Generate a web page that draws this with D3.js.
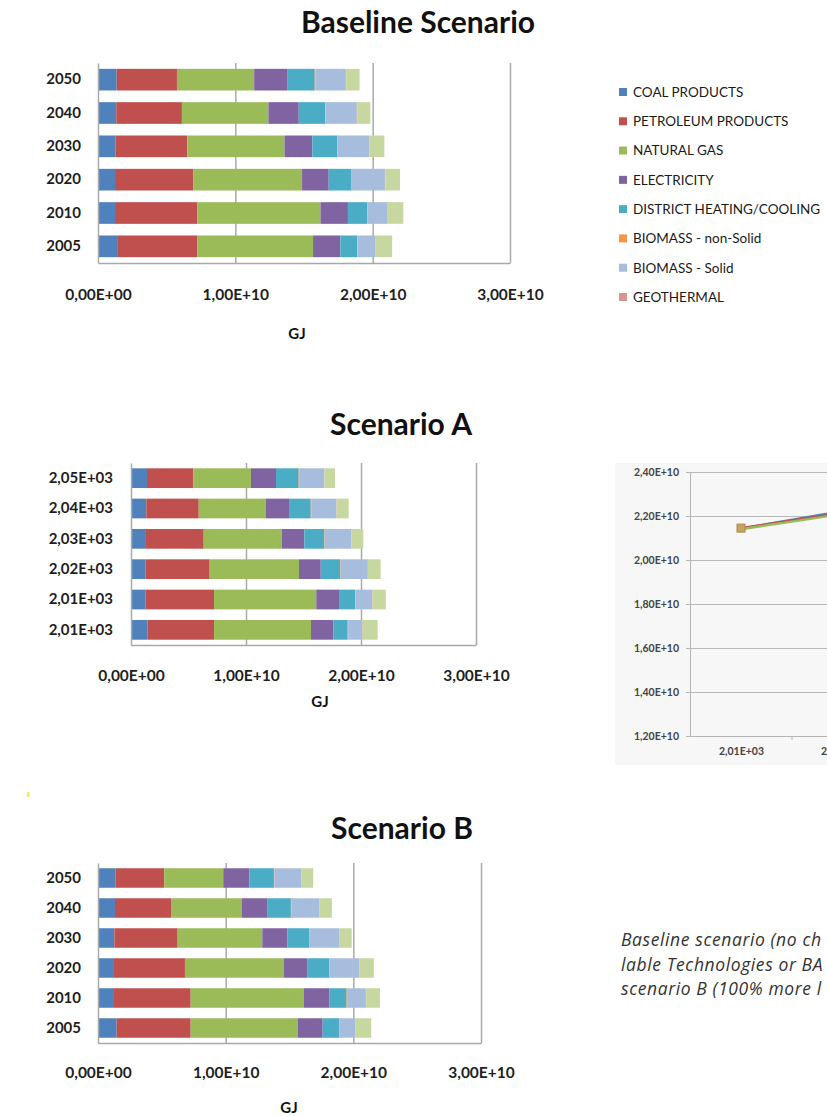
<!DOCTYPE html>
<html>
<head>
<meta charset="utf-8">
<script src="https://cdn.jsdelivr.net/npm/d3@7"></script>
<style>
  body { margin: 0; background: #fff; }
  svg { display: block; font-family: Lato, "Open Sans", sans-serif; }
</style>
</head>
<body>
<script>
// categories (bottom to top in the bar charts)
var years = [2005, 2010, 2020, 2030, 2040, 2050];
var yearLabels = ["2005", "2010", "2020", "2030", "2040", "2050"];
var yearLabelsA = ["2,01E+03", "2,01E+03", "2,02E+03", "2,03E+03", "2,04E+03", "2,05E+03"];

// series (the 9th one is not visible in the cropped legend)
var seriesNames = ["COAL PRODUCTS", "PETROLEUM PRODUCTS", "NATURAL GAS", "ELECTRICITY",
  "DISTRICT HEATING/COOLING", "BIOMASS - non-Solid", "BIOMASS - Solid", "GEOTHERMAL", "OTHER"];
var seriesColors = ["#4f81bd", "#c0504d", "#9bbb59", "#8064a2", "#4bacc6",
  "#f79646", "#a6bddd", "#da9694", "#c6d8a0"];

// values in 1E+10 GJ, one row per year, one column per series
var baselineValues = [
  [0.145, 0.577, 0.844, 0.199, 0.121, 0.004, 0.129, 0.003, 0.120],
  [0.124, 0.598, 0.898, 0.200, 0.139, 0.004, 0.144, 0.003, 0.113],
  [0.124, 0.569, 0.793, 0.194, 0.165, 0.004, 0.240, 0.003, 0.107],
  [0.129, 0.521, 0.708, 0.203, 0.180, 0.004, 0.228, 0.003, 0.109],
  [0.133, 0.478, 0.630, 0.221, 0.191, 0.004, 0.227, 0.003, 0.096],
  [0.136, 0.439, 0.562, 0.240, 0.201, 0.004, 0.222, 0.003, 0.098]
];
var scenarioAValues = [
  [0.145, 0.577, 0.843, 0.194, 0.125, 0.004, 0.123, 0.003, 0.131],
  [0.128, 0.594, 0.889, 0.204, 0.133, 0.004, 0.146, 0.003, 0.114],
  [0.128, 0.556, 0.777, 0.189, 0.170, 0.004, 0.234, 0.003, 0.110],
  [0.130, 0.502, 0.678, 0.197, 0.174, 0.004, 0.228, 0.003, 0.104],
  [0.133, 0.456, 0.582, 0.203, 0.189, 0.004, 0.218, 0.003, 0.105],
  [0.139, 0.403, 0.501, 0.218, 0.197, 0.004, 0.216, 0.003, 0.093]
];
var scenarioBValues = [
  [0.146, 0.580, 0.838, 0.196, 0.130, 0.004, 0.121, 0.003, 0.122],
  [0.125, 0.601, 0.887, 0.198, 0.136, 0.004, 0.147, 0.003, 0.108],
  [0.125, 0.556, 0.776, 0.185, 0.169, 0.004, 0.231, 0.003, 0.112],
  [0.128, 0.496, 0.663, 0.195, 0.173, 0.004, 0.231, 0.003, 0.094],
  [0.133, 0.439, 0.556, 0.201, 0.182, 0.004, 0.218, 0.003, 0.096],
  [0.136, 0.383, 0.462, 0.204, 0.193, 0.004, 0.208, 0.003, 0.093]
];

var barTicks = [0, 1e10, 2e10, 3e10];
var lineTicks = [1.2e10, 1.4e10, 1.6e10, 1.8e10, 2.0e10, 2.2e10, 2.4e10];

var captionLines = ["Baseline scenario (no ch", "lable Technologies or BA", "scenario B (100% more l"];

// Excel style number format, e.g. 1,00E+10
function fmtE(v) {
  if (v === 0) return "0,00E+00";
  var e = Math.floor(Math.log10(Math.abs(v)));
  var m = v / Math.pow(10, e);
  return m.toFixed(2).replace(".", ",") + "E+" + (e < 10 ? "0" : "") + e;
}

var svg = d3.select("body").append("svg")
    .attr("width", 827)
    .attr("height", 1116);

var gridColor = "#a9a9a9";

// drop the font attributes d3.axis puts on its group
function plainAxis(s) {
  s.attr("font-family", null).attr("font-size", null);
}

function drawBarChart(c) {
  var rows = c.values.map(function(r, i) { return {year: years[i], v: r}; });

  var x = d3.scaleLinear().domain([0, 3e10]).range([c.left, c.right]);
  var y = d3.scaleBand()
      .domain(years.slice().reverse())
      .range([c.top, c.bottom])
      .paddingInner(0.35)
      .paddingOuter(0.175);

  var stack = d3.stack()
      .keys(d3.range(seriesNames.length))
      .value(function(d, k) { return d.v[k] * 1e10; });
  var layers = stack(rows);

  var g = svg.append("g");

  // vertical gridlines
  g.append("g")
      .attr("transform", "translate(0," + c.bottom + ")")
      .call(d3.axisBottom(x).tickValues(barTicks.slice(1)).tickSize(-(c.bottom - c.top)).tickFormat(""))
      .call(function(s) {
        s.select(".domain").remove();
        s.selectAll("line").attr("stroke", gridColor).attr("stroke-width", 1.5);
      });

  // stacked bars
  g.selectAll(".layer")
      .data(layers)
      .enter().append("g")
      .attr("fill", function(d, i) { return seriesColors[i]; })
      .selectAll("rect")
      .data(function(d) { return d; })
      .enter().append("rect")
      .attr("x", function(d) { return x(d[0]); })
      .attr("y", function(d) { return y(d.data.year); })
      .attr("width", function(d) { return x(d[1]) - x(d[0]); })
      .attr("height", y.bandwidth());

  // x axis
  g.append("g")
      .attr("transform", "translate(0," + c.bottom + ")")
      .call(d3.axisBottom(x).tickValues(barTicks).tickFormat(fmtE).tickSize(0).tickPadding(c.xPad))
      .call(plainAxis)
      .call(function(s) {
        s.select(".domain").attr("stroke", gridColor).attr("stroke-width", 1.5);
        s.selectAll("text").attr("fill", "#1e1e1e")
          .style("font-size", "15.5px").style("font-weight", "bold");
      });

  // y axis
  g.append("g")
      .attr("transform", "translate(" + c.left + ",0)")
      .call(d3.axisLeft(y).tickSize(0).tickSizeOuter(0).tickPadding(c.yPad)
        .tickFormat(function(d) { return c.labels[years.indexOf(d)]; }))
      .call(plainAxis)
      .call(function(s) {
        s.select(".domain").attr("stroke", gridColor).attr("stroke-width", 1.5);
        s.selectAll("text").attr("fill", "#1e1e1e")
          .style("font-size", "15px").style("font-weight", "bold");
      });

  // title
  g.append("text")
      .attr("x", c.titleX)
      .attr("y", c.titleY)
      .attr("text-anchor", "middle")
      .style("font-size", c.titleSize + "px")
      .style("font-weight", "bold")
      .attr("fill", "#111")
      .text(c.title);

  // axis title
  g.append("text")
      .attr("x", c.gjX)
      .attr("y", c.gjY)
      .attr("text-anchor", "middle")
      .style("font-size", "15px")
      .style("font-weight", "bold")
      .attr("fill", "#111")
      .text("GJ");
}

drawBarChart({values: baselineValues, labels: yearLabels, title: "Baseline Scenario",
  left: 98, right: 510, top: 63, bottom: 263, xPad: 26, yPad: 17,
  titleX: 418, titleY: 33, titleSize: 30, gjX: 297, gjY: 339});

drawBarChart({values: scenarioAValues, labels: yearLabelsA, title: "Scenario A",
  left: 131, right: 476, top: 463, bottom: 645, xPad: 25, yPad: 18,
  titleX: 401, titleY: 435, titleSize: 30, gjX: 320, gjY: 707});

drawBarChart({values: scenarioBValues, labels: yearLabels, title: "Scenario B",
  left: 98, right: 481, top: 863, bottom: 1043, xPad: 24, yPad: 17,
  titleX: 402, titleY: 839, titleSize: 30, gjX: 289, gjY: 1113});

// legend (only the first 8 entries are visible in the crop)
var legend = svg.append("g");
var legendY = d3.scalePoint().domain(d3.range(8)).range([92, 297]);
var items = legend.selectAll(".item")
    .data(seriesNames.slice(0, 8))
    .enter().append("g")
    .attr("transform", function(d, i) { return "translate(619," + legendY(i) + ")"; });
items.append("rect")
    .attr("x", 0).attr("y", -4)
    .attr("width", 8).attr("height", 8)
    .attr("fill", function(d, i) { return seriesColors[i]; });
items.append("text")
    .attr("x", 14)
    .attr("dy", "0.36em")
    .style("font-size", "13.5px")
    .attr("fill", "#1a1a1a")
    .text(function(d) { return d; });

// line chart of totals (cropped at the right edge)
var totals = [baselineValues, scenarioAValues, scenarioBValues].map(function(vals) {
  return vals.map(function(r, i) { return {year: years[i], total: d3.sum(r) * 1e10}; });
});
var lineColors = ["#4f81bd", "#c0504d", "#9bbb59"];

var lc = svg.append("g");
lc.append("rect")
    .attr("x", 615).attr("y", 463)
    .attr("width", 220).attr("height", 302)
    .attr("fill", "#f7f7f7");

var lx = d3.scalePoint().domain(years).range([690, 1302]).padding(0.5);
var ly = d3.scaleLinear().domain([1.2e10, 2.4e10]).range([736, 472]);

lc.append("g")
    .attr("transform", "translate(690,0)")
    .call(d3.axisLeft(ly).tickValues(lineTicks).tickFormat(fmtE).tickSize(4).tickPadding(7))
    .call(plainAxis)
    .call(function(s) {
      s.select(".domain").attr("stroke", "#b4b4b4");
      s.selectAll("line").attr("stroke", "#b4b4b4");
      s.selectAll("text").attr("fill", "#444").style("font-size", "10.5px").style("font-weight", "bold");
    });

lc.append("g")
    .attr("transform", "translate(690,0)")
    .call(d3.axisLeft(ly).tickValues(lineTicks.slice(1)).tickSize(-620).tickFormat(""))
    .call(function(s) {
      s.select(".domain").remove();
      s.selectAll("line").attr("stroke", "#b9b9b9");
    });

// only the categories that reach into the visible crop get a label
lc.append("g")
    .attr("transform", "translate(0,736)")
    .call(d3.axisBottom(lx).tickSize(0).tickPadding(12)
      .tickValues(years.filter(function(d) { return lx(d) < 870; }))
      .tickFormat(function(d) { return yearLabelsA[years.indexOf(d)]; }))
    .call(plainAxis)
    .call(function(s) {
      s.select(".domain").attr("stroke", "#b4b4b4");
      s.selectAll("text").attr("fill", "#444").style("font-size", "10.5px").style("font-weight", "bold");
    });

// small tick marks between categories
lc.selectAll(".xtick")
    .data(years.slice(1))
    .enter().append("line")
    .attr("x1", function(d) { return lx(d) - lx.step() / 2; })
    .attr("x2", function(d) { return lx(d) - lx.step() / 2; })
    .attr("y1", 736).attr("y2", 740)
    .attr("stroke", "#b4b4b4");

var line = d3.line()
    .x(function(d) { return lx(d.year); })
    .y(function(d) { return ly(d.total); });

lc.selectAll(".series")
    .data(totals)
    .enter().append("path")
    .attr("d", line)
    .attr("fill", "none")
    .attr("stroke", function(d, i) { return lineColors[i]; })
    .attr("stroke-width", 2.4);

lc.selectAll(".marker")
    .data(totals[1])
    .enter().append("rect")
    .attr("x", function(d) { return lx(d.year) - 4; })
    .attr("y", function(d) { return ly(d.total) - 4; })
    .attr("width", 8).attr("height", 8)
    .attr("fill", "#c9a463")
    .attr("stroke", "#a98a4a");

// caption text
svg.append("g").selectAll("text")
    .data(captionLines)
    .enter().append("text")
    .attr("x", 621)
    .attr("y", function(d, i) { return 946 + i * 24.5; })
    .style("font-family", "'Open Sans', sans-serif")
    .style("font-style", "italic")
    .style("font-size", "17.5px")
    .style("letter-spacing", "0.6px")
    .attr("fill", "#333")
    .text(function(d) { return d; });

// small yellow mark at the left
svg.append("rect")
    .attr("x", 27).attr("y", 792)
    .attr("width", 2.5).attr("height", 5)
    .attr("fill", "#ffe45c");
</script>
</body>
</html>
